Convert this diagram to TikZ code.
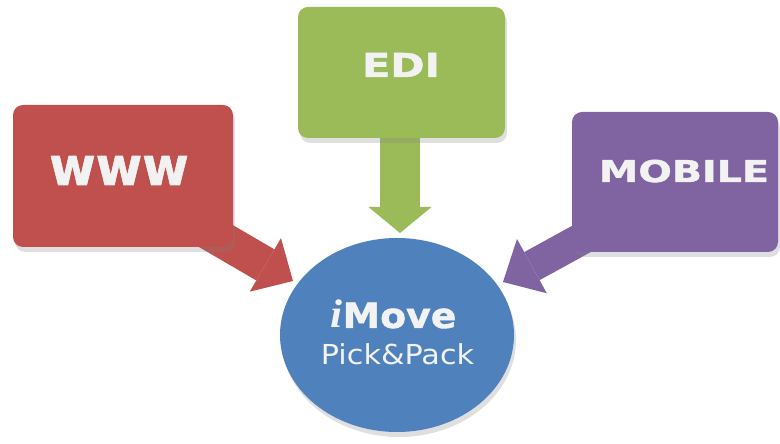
\documentclass[tikz,border=0pt]{standalone}
\usepackage{fontspec}
\setmainfont{DejaVu Sans}
\newfontfamily\heavy[FakeBold=1.2]{DejaVu Sans Bold}
\newfontfamily\iserif{Liberation Serif}
\usetikzlibrary{arrows.meta,shadows,backgrounds,shapes.geometric}
\definecolor{cred}{HTML}{C0504D}
\definecolor{cgreen}{HTML}{9BBB59}
\definecolor{cpurple}{HTML}{8064A2}
\definecolor{cblue}{HTML}{4F81BD}
\definecolor{ctext}{HTML}{F2F2F2}
\begin{document}
\begin{tikzpicture}[x=1pt,y=1pt,
  box/.style={rectangle, rounded corners=10pt, inner sep=0pt, outer sep=0pt,
    drop shadow={opacity=0.25, shadow xshift=2pt, shadow yshift=-5pt}},
  label/.style={anchor=base, inner sep=0pt, text=ctext},
  blockarrow/.style={line cap=butt}
]
\useasboundingbox (0,0) rectangle (780,444);

% source boxes
\node[box, fill=cred, minimum width=220pt, minimum height=142pt] (www) at (123,268) {};
\node[box, fill=cgreen, minimum width=207pt, minimum height=131pt] (edi) at (401.5,371.5) {};
\node[box, fill=cpurple, minimum width=206pt, minimum height=140pt] (mobile) at (675,262) {};

\node[label] (wwwt) at (119,259) {\fontsize{53}{58}\selectfont\heavy\scalebox{0.95}[1]{www}};
\node[label] (edit) at (401,367) {\fontsize{33}{36}\selectfont\heavy\scalebox{1.25}[1]{EDI}};
\node[label] (mobilet) at (684,262) {\fontsize{30}{33}\selectfont\heavy\scalebox{1.32}[1]{MOBILE}};

% central disc
\node[ellipse, fill=cblue, minimum width=234pt, minimum height=194pt, inner sep=0pt,
  drop shadow={opacity=0.25, shadow xshift=2pt, shadow yshift=-5pt}] (imove) at (397,109) {};
\node[label] (imovet) at (393.5,116)
  {\scalebox{1.08}[1]{{\iserif\bfseries\itshape\fontsize{40}{44}\selectfont i}{\heavy\fontsize{35}{38}\selectfont Move}}};
\node[label] (pick) at (397.5,79)
  {\fontsize{27.5}{30}\selectfont\scalebox{1.1}[1]{Pick\&Pack}};

% arrows behind the boxes
\coordinate (wwwS) at (190,223);
\coordinate (wwwT) at (293,163);
\coordinate (ediS) at (400,324);
\coordinate (ediT) at (400,211);
\coordinate (mobS) at (605,218);
\coordinate (mobT) at (503,162);
\begin{scope}[on background layer]
\draw[blockarrow, draw=cred, line width=36pt, -{Triangle[length=32pt,width=62pt,line width=0pt]}] (wwwS) -- (wwwT);
\draw[blockarrow, draw=cgreen, line width=40pt, -{Triangle[length=26pt,width=63pt,line width=0pt]}] (ediS) -- (ediT);
\draw[blockarrow, draw=cpurple, line width=32pt, -{Triangle[length=33pt,width=62pt,line width=0pt]}] (mobS) -- (mobT);
\end{scope}
\end{tikzpicture}
\end{document}
